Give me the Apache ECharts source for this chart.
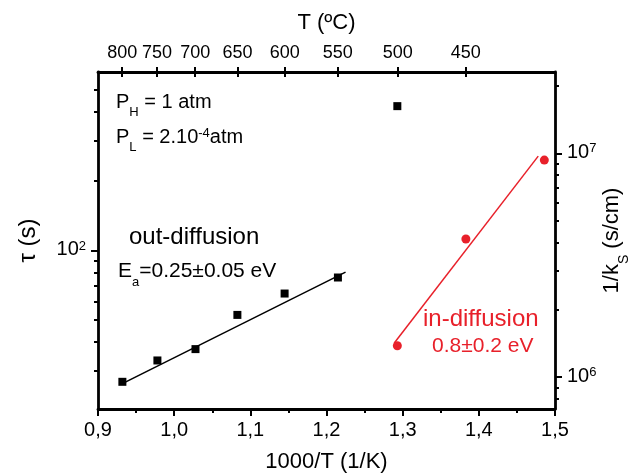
<!DOCTYPE html>
<html>
<head>
<meta charset="utf-8">
<script src="https://cdn.jsdelivr.net/npm/echarts@6.0.0/dist/echarts.min.js"></script>
<style>
  html, body { margin: 0; padding: 0; background: #fff; }
  #chart { width: 632px; height: 475px; }
</style>
</head>
<body>
<div id="chart"></div>
<script>
// Out-diffusion time constant tau (s) versus 1000/T
const outX = [0.932, 0.978, 1.028, 1.083, 1.145, 1.215, 1.293];
const tau = [26.9, 33.3, 37.3, 52.5, 65.0, 76.3, 423];
// Arrhenius fit of the out-diffusion points
const outFitX = [0.930, 1.225];
const outFitY = [26.2, 80.5];

// In-diffusion: 1/k_s (s/cm) versus 1000/T
const inX = [1.293, 1.383, 1.486];
const invKs = [1.38e6, 4.14e6, 9.33e6];
// Arrhenius fit of the in-diffusion points
const inFitX = [1.289, 1.478];
const inFitY = [1.42e6, 9.72e6];

// Axis ranges and tick labels
const xRange = [0.9, 1.5];
const tempTicksC = [800, 750, 700, 650, 600, 550, 500, 450];
const tauRange = [20.5, 595];
const tauMajor = [100];
const tauMinor = [30, 40, 50, 60, 70, 80, 90, 200, 300, 400, 500];
const ksRange = [7.2e5, 2.31e7];
const ksMajor = [1e6, 1e7];
const ksMinor = [8e5, 9e5, 2e6, 3e6, 4e6, 5e6, 6e6, 7e6, 8e6, 9e6, 2e7];

const FONT = '"Liberation Sans", Arial, sans-serif';
const RED = '#e8202a';
const lg = Math.log10;

const topTickPos = tempTicksC.map(t => 1000 / (t + 273.15));

const richText = {
  b: { fontSize: 20, lineHeight: 22, verticalAlign: 'top', fontFamily: FONT, color: '#000' },
  sup: { fontSize: 13, lineHeight: 14, verticalAlign: 'top', fontFamily: FONT, color: '#000' },
  sub: { fontSize: 13, lineHeight: 14, padding: [14, 0, 0, 0], verticalAlign: 'top', fontFamily: FONT, color: '#000' }
};

const lineStyle = { color: '#000', width: 2.8 };
const tickStyle = { color: '#000', width: 2 };

function powLabel(v) {
  return '{b|10}{sup|' + Math.round(v) + '}';
}

const chart = echarts.init(document.getElementById('chart'), null, { renderer: 'canvas' });

chart.setOption({
  animation: false,
  backgroundColor: '#fff',
  textStyle: { fontFamily: FONT },
  grid: { left: 98, right: 77, top: 72, bottom: 66, outerBoundsMode: 'none', containLabel: false },
  xAxis: [
    {
      type: 'value', position: 'bottom', min: xRange[0], max: xRange[1], interval: 0.1,
      axisLine: { show: true, onZero: false, lineStyle },
      axisTick: { show: true, inside: false, length: 7, lineStyle: tickStyle },
      minorTick: { show: true, splitNumber: 2, length: 4, lineStyle: tickStyle },
      splitLine: { show: false }, minorSplitLine: { show: false },
      axisLabel: {
        fontSize: 20, color: '#000', fontFamily: FONT, margin: 11,
        formatter: v => v.toFixed(1).replace('.', ',')
      },
      name: '1000/T (1/K)', nameLocation: 'middle', nameGap: 42, nameMoveOverlap: false,
      nameTextStyle: { fontSize: 22, color: '#000', fontFamily: FONT }
    },
    {
      type: 'value', position: 'top', min: xRange[0], max: xRange[1],
      axisLine: { show: true, onZero: false, lineStyle },
      axisTick: { show: true, inside: false, length: 5, customValues: topTickPos, lineStyle: tickStyle },
      splitLine: { show: false },
      axisLabel: {
        customValues: topTickPos, fontSize: 18, color: '#000', fontFamily: FONT, margin: 10,
        formatter: v => String(Math.round(1000 / v - 273.15))
      },
      name: 'T (ºC)', nameLocation: 'middle', nameGap: 38, nameMoveOverlap: false,
      nameTextStyle: { fontSize: 22, color: '#000', fontFamily: FONT }
    },
    {
      type: 'value', position: 'top', min: xRange[0], max: xRange[1],
      axisLine: { show: false, onZero: false },
      axisTick: { show: true, inside: true, length: 5, customValues: topTickPos, lineStyle: tickStyle },
      axisLabel: { show: false }, splitLine: { show: false }
    }
  ],
  yAxis: [
    {
      type: 'value', position: 'left', min: lg(tauRange[0]), max: lg(tauRange[1]),
      axisLine: { show: true, onZero: false, lineStyle },
      axisTick: { show: true, inside: false, length: 7, customValues: tauMajor.map(lg), lineStyle: tickStyle },
      splitLine: { show: false },
      axisLabel: { customValues: tauMajor.map(lg), margin: 12, formatter: powLabel, rich: richText },
      name: 'τ (s)', nameLocation: 'middle', nameGap: 58, nameRotate: 90, nameMoveOverlap: false,
      nameTextStyle: { fontSize: 24, color: '#000', fontFamily: FONT }
    },
    {
      type: 'value', position: 'left', min: lg(tauRange[0]), max: lg(tauRange[1]),
      axisLine: { show: false, onZero: false },
      axisTick: { show: true, inside: false, length: 4, customValues: tauMinor.map(lg), lineStyle: tickStyle },
      axisLabel: { show: false }, splitLine: { show: false }
    },
    {
      type: 'value', position: 'right', min: lg(ksRange[0]), max: lg(ksRange[1]),
      axisLine: { show: true, onZero: false, lineStyle },
      axisTick: { show: true, inside: false, length: 7, customValues: ksMajor.map(lg), lineStyle: tickStyle },
      splitLine: { show: false },
      axisLabel: { customValues: ksMajor.map(lg), margin: 12, formatter: powLabel, rich: richText },
      name: '{n|1/k}{s|S}{n| (s/cm)}', nameLocation: 'middle', nameGap: 46, nameRotate: 90, nameMoveOverlap: false,
      nameTextStyle: {
        fontSize: 22, color: '#000', fontFamily: FONT,
        rich: {
          n: { fontSize: 22, lineHeight: 24, verticalAlign: 'top', fontFamily: FONT, color: '#000' },
          s: { fontSize: 14, lineHeight: 14, padding: [16, 0, 0, 0], verticalAlign: 'top', fontFamily: FONT, color: '#000' }
        }
      }
    },
    {
      type: 'value', position: 'right', min: lg(ksRange[0]), max: lg(ksRange[1]),
      axisLine: { show: false, onZero: false },
      axisTick: { show: true, inside: false, length: 4, customValues: ksMinor.map(lg), lineStyle: tickStyle },
      axisLabel: { show: false }, splitLine: { show: false }
    }
  ],
  series: [
    {
      name: 'out-diffusion', type: 'scatter', xAxisIndex: 0, yAxisIndex: 0,
      symbol: 'rect', symbolSize: 8, itemStyle: { color: '#000', opacity: 1 },
      data: outX.map((x, i) => [x, lg(tau[i])]), z: 3
    },
    {
      name: 'out-diffusion fit', type: 'line', xAxisIndex: 0, yAxisIndex: 0,
      symbol: 'none', lineStyle: { color: '#000', width: 1.5 },
      data: outFitX.map((x, i) => [x, lg(outFitY[i])]), z: 2
    },
    {
      name: 'in-diffusion', type: 'scatter', xAxisIndex: 0, yAxisIndex: 2,
      symbol: 'circle', symbolSize: 9, itemStyle: { color: RED, opacity: 1 },
      data: inX.map((x, i) => [x, lg(invKs[i])]), z: 3
    },
    {
      name: 'in-diffusion fit', type: 'line', xAxisIndex: 0, yAxisIndex: 2,
      symbol: 'none', lineStyle: { color: RED, width: 1.5 },
      data: inFitX.map((x, i) => [x, lg(inFitY[i])]), z: 2
    }
  ],
  graphic: [
    {
      type: 'text', x: 116, y: 92,
      style: { text: '{b|P}{sub|H}{b| = 1 atm}', rich: richText, fill: '#000' }
    },
    {
      type: 'text', x: 116, y: 127,
      style: { text: '{b|P}{sub|L}{b| = 2.10}{sup|-4}{b|atm}', rich: richText, fill: '#000' }
    },
    {
      type: 'text', x: 129, y: 225,
      style: { text: 'out-diffusion', font: '24px ' + FONT, fill: '#000' }
    },
    {
      type: 'text', x: 118, y: 261,
      style: {
        text: '{m|E}{s|a}{m|=0.25±0.05 eV}',
        rich: {
          m: { fontSize: 21, lineHeight: 23, verticalAlign: 'top', fontFamily: FONT, color: '#000' },
          s: { fontSize: 13, lineHeight: 14, padding: [15, 0, 0, 0], verticalAlign: 'top', fontFamily: FONT, color: '#000' }
        }
      }
    },
    {
      type: 'text', x: 423, y: 307,
      style: { text: 'in-diffusion', font: '24px ' + FONT, fill: RED }
    },
    {
      type: 'text', x: 432, y: 336,
      style: { text: '0.8±0.2 eV', font: '21px ' + FONT, fill: RED }
    }
  ]
});
</script>
</body>
</html>
